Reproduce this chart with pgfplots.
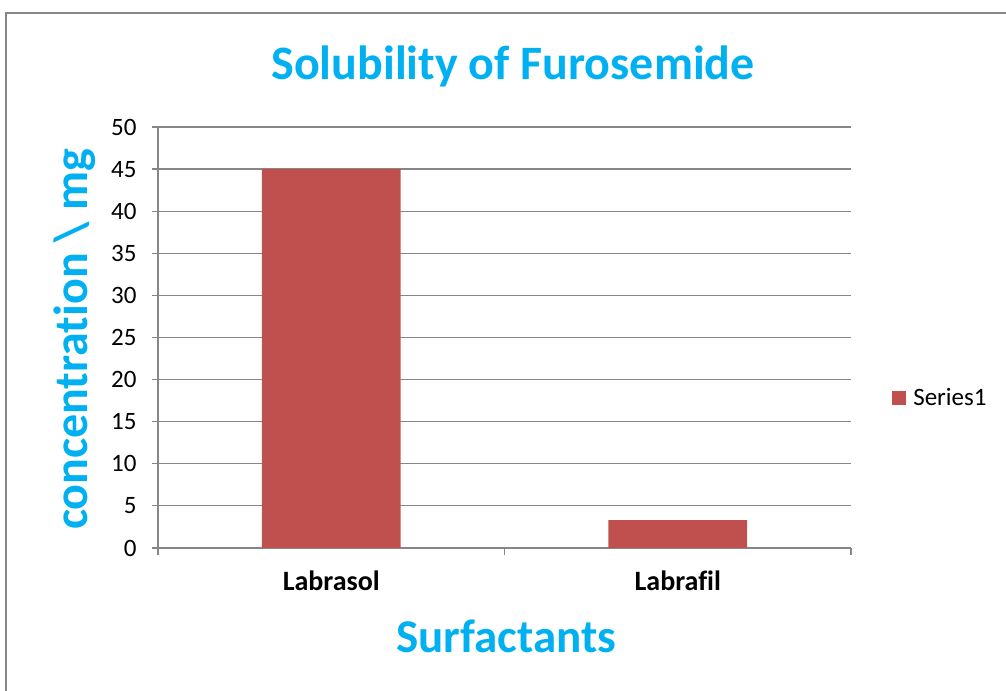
\documentclass[border=0pt]{standalone}
\usepackage{fontspec}
\setmainfont{Carlito}[Ligatures=NoCommon]
\usepackage{pgfplots}
\pgfplotsset{compat=1.18}
\definecolor{titlecyan}{HTML}{00B0F0}
\definecolor{barred}{HTML}{C0504D}
\definecolor{gridgray}{HTML}{868686}
\definecolor{framegray}{HTML}{878787}
\begin{document}
\begin{tikzpicture}[x=1bp,y=1bp]
\path[use as bounding box] (0,0) rectangle (1006,691);
\draw[framegray, line width=2bp] (5.5,0) -- (5.5,677.5) -- (1006,677.5);
\begin{axis}[
  at={(158bp,143bp)}, anchor=south west,
  scale only axis, width=693bp, height=421bp,
  ymin=0, ymax=50, ytick={0,5,...,50},
  xmin=-0.5, xmax=1.5, xtick={0,1}, xticklabels={Labrasol,Labrafil},
  minor xtick={-0.5,0.5,1.5},
  axis x line*=bottom, axis y line*=left,
  axis line style={gridgray, line width=1.2bp, -},
  ymajorgrids, grid style={gridgray, line width=1.2bp},
  tick align=outside, major tick length=6bp, minor tick length=7bp,
  major x tick style={draw=none},
  minor x tick style={gridgray, line width=1.2bp},
  y tick style={gridgray, line width=1.2bp},
  /pgf/number format/assume math mode=true,
  yticklabel style={font=\fontsize{25bp}{29bp}\selectfont, xshift=-12bp},
  xticklabel style={font=\bfseries\fontsize{28bp}{32bp}\selectfont, yshift=-13bp},
  ybar, bar width=0.4, bar shift=0,
  legend style={at={(1.055,0.356)}, anchor=west, draw=none, fill=none,
    font=\fontsize{25bp}{29bp}\selectfont},
  legend image code/.code={\fill[barred] (0bp,-7bp) rectangle (14bp,7bp);},
]
\addplot[fill=barred, draw=none] coordinates {(0,45) (1,3.3)};
\addlegendentry{\hspace{5bp}Series1}
\end{axis}
\node[anchor=base, text=titlecyan, font=\bfseries\fontsize{48bp}{56bp}\selectfont] at (513,611) {Solubility of Furosemide};
\node[anchor=base, text=titlecyan, font=\bfseries\fontsize{47bp}{56bp}\selectfont] at (506,38) {Surfactants};
\node[anchor=base, rotate=90, text=titlecyan, font=\bfseries\fontsize{48bp}{56bp}\selectfont] at (87,351.5) {concentration \textbackslash{} mg};
\end{tikzpicture}
\end{document}
